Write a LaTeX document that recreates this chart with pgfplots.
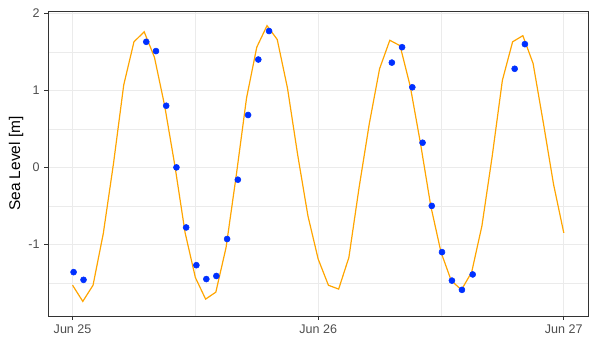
\documentclass[border=0pt]{standalone}
\usepackage{fontspec}
\setmainfont{Liberation Sans}
\usepackage{pgfplots}
\pgfplotsset{compat=1.18}
\definecolor{grid92}{HTML}{EBEBEB}
\definecolor{grey20}{HTML}{333333}
\definecolor{grey30}{HTML}{4D4D4D}
\definecolor{tideline}{HTML}{FFA500}
\definecolor{obsblue}{HTML}{0030FF}

% hourly sea level, hours since Jun 25 00:00
\pgfplotstableread{
h v
0 -1.53
1 -1.74
2 -1.53
3 -0.86
4 0.05
5 1.07
6 1.63
7 1.76
8 1.43
9 0.80
10 0.02
11 -0.85
12 -1.43
13 -1.71
14 -1.62
15 -1.04
16 -0.10
17 0.90
18 1.56
19 1.84
20 1.66
21 1.03
22 0.16
23 -0.63
24 -1.19
25 -1.53
26 -1.58
27 -1.17
28 -0.26
29 0.57
30 1.28
31 1.65
32 1.58
33 1.05
34 0.31
35 -0.50
36 -1.10
37 -1.47
38 -1.59
39 -1.36
40 -0.76
41 0.14
42 1.13
43 1.63
44 1.71
45 1.35
46 0.58
47 -0.22
48 -0.85
}\tide

% observations
\pgfplotstableread{
h v
0.1 -1.36
1.07 -1.46
7.2 1.63
8.15 1.51
9.15 0.80
10.15 0.00
11.1 -0.78
12.1 -1.27
13.07 -1.45
14.05 -1.41
15.1 -0.93
16.15 -0.16
17.15 0.68
18.15 1.40
19.2 1.77
31.2 1.36
32.2 1.56
33.2 1.04
34.2 0.32
35.1 -0.50
36.1 -1.10
37.07 -1.47
38.05 -1.59
39.1 -1.39
43.2 1.28
44.2 1.60
}\obs

\begin{document}
\begin{tikzpicture}
\begin{axis}[
    scale only axis,
    width=405.2pt, height=228.75pt,
    xmin=-2.4, xmax=50.4,
    ymin=-1.93, ymax=2.03,
    xtick={0,24,48},
    xticklabels={Jun 25,Jun 26,Jun 27},
    ytick={-1,0,1,2},
    yticklabels={-1,0,1,2},
    minor xtick={12,36},
    minor ytick={-1.5,-0.5,0.5,1.5},
    xmajorgrids, ymajorgrids, xminorgrids, yminorgrids,
    major grid style={color=grid92, line width=0.8pt},
    minor grid style={color=grid92, line width=0.4pt},
    tick align=outside,
    major tick length=2.75pt,
    minor tick length=0pt,
    tick style={color=grey20, line width=0.6pt},
    axis line style={color=grey20, line width=0.7pt},
    ticklabel style={font=\fontsize{9.4}{11}\selectfont, text=grey30},
    xtick pos=bottom, ytick pos=left,
    ylabel={Sea Level [m]},
    ylabel style={font=\fontsize{11.6}{13}\selectfont, at={(axis description cs:-0.0592,0.5)}, anchor=center},
]
\addplot[tideline, line width=0.9pt] table[x=h, y=v] {\tide};
\addplot[only marks, mark=*, mark size=2.25pt, color=obsblue] table[x=h, y=v] {\obs};
\end{axis}
\path ([xshift=-36pt,yshift=-21pt]current axis.south west) rectangle ([xshift=8pt,yshift=8.25pt]current axis.north east);
\end{tikzpicture}
\end{document}
